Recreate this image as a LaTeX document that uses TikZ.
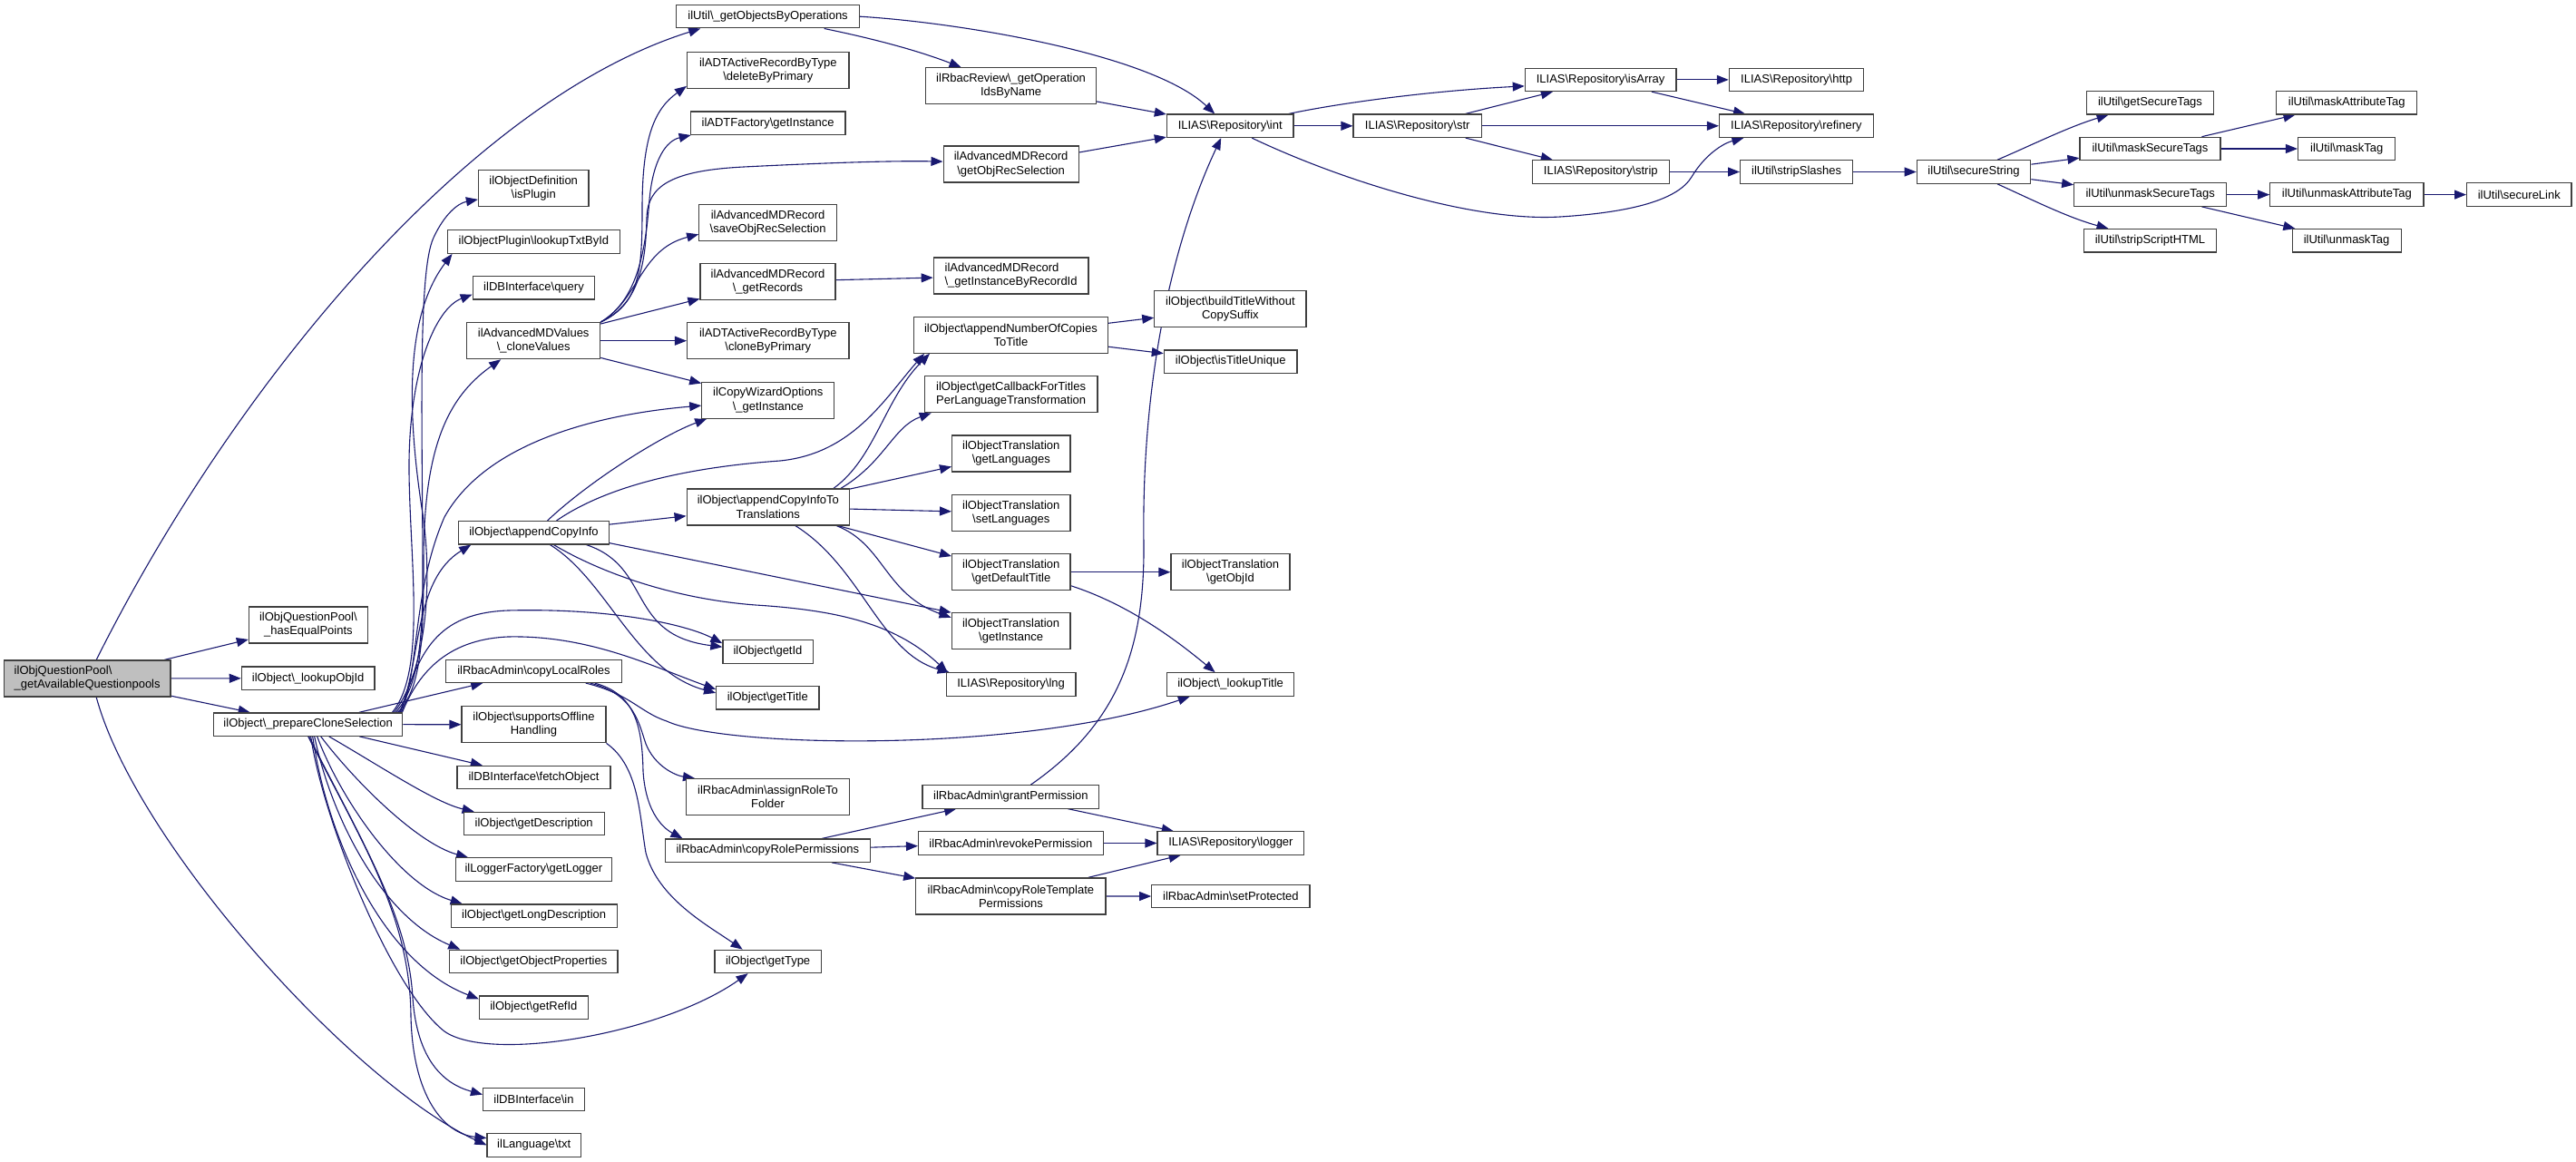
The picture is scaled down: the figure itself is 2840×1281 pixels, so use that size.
\documentclass[tikz,border=0pt]{standalone}
\usepackage{fontspec}
\newfontfamily\nodefont{Liberation Sans}
\usetikzlibrary{arrows.meta}
\pgfdeclarelayer{background}
\pgfsetlayers{background,main}
\definecolor{edgecol}{HTML}{191970}
\definecolor{rootfill}{HTML}{BFBFBF}
\tikzset{
  box/.style={draw=black!75, line width=1.2pt, fill=white, inner sep=0pt, text=black,
    font={\nodefont\fontsize{13}{15.1}\selectfont}, align=center},
  one/.style={box, minimum height=25.4pt},
  two/.style={box, minimum height=40pt},
  edge/.style={draw=edgecol, line width=1.1pt, -{Triangle[length=13pt,width=10pt]}},
}
\newcommand{\bs}{\textbackslash}
\begin{document}
\begin{tikzpicture}[x=1pt,y=-1pt]
\useasboundingbox (0,0) rectangle (2840,1281);
% ---------- nodes ----------
\node[two, fill=rootfill, align=left, minimum width=183.4pt] (A) at (96.2,748) {ilObjQuestionPool\bs\\\_getAvailableQuestionpools};
\node[two, minimum width=130.9pt] (hEP) at (339.9,689) {ilObjQuestionPool\bs\\\_hasEqualPoints};
\node[one, minimum width=146.7pt] (LOI) at (339.7,747.7) {ilObject\bs\_lookupObjId};
\node[one, minimum width=208.3pt] (P) at (339.7,798.6) {ilObject\bs\_prepareCloneSelection};
\node[one, minimum width=201.5pt] (GOBO) at (846.6,18.2) {ilUtil\bs\_getObjectsByOperations};
\node[two, minimum width=178.5pt] (DBP) at (846.8,77.3) {ilADTActiveRecordByType\\\bs deleteByPrimary};
\node[one, minimum width=170.7pt] (ADTF) at (846.6,135.7) {ilADTFactory\bs getInstance};
\node[two, minimum width=149pt] (GORS) at (1114.6,181.1) {ilAdvancedMDRecord\\\bs getObjRecSelection};
\node[two, minimum width=188pt] (OIBN) at (1114.6,94.7) {ilRbacReview\bs\_getOperation\\IdsByName};
\node[one, minimum width=139.6pt] (INT) at (1356.2,138.8) {ILIAS\bs Repository\bs int};
\node[two, minimum width=151.7pt] (SORS) at (846.6,245.3) {ilAdvancedMDRecord\\\bs saveObjRecSelection};
\node[two, minimum width=149pt] (GR) at (846.5,310.5) {ilAdvancedMDRecord\\\bs\_getRecords};
\node[two, align=left, minimum width=170.7pt] (GIBR) at (1114.6,304) {ilAdvancedMDRecord\\\bs\_getInstanceByRecordId};
\node[two, minimum width=178.5pt] (CBP) at (846.8,375.7) {ilADTActiveRecordByType\\\bs cloneByPrimary};
\node[two, minimum width=146pt] (CWO) at (846.8,441.1) {ilCopyWizardOptions\\\bs\_getInstance};
\node[two, minimum width=213.7pt] (ANC) at (1114.4,369.2) {ilObject\bs appendNumberOfCopies\\ToTitle};
\node[two, minimum width=167.2pt] (BTW) at (1356.4,340.2) {ilObject\bs buildTitleWithout\\CopySuffix};
\node[one, minimum width=146.7pt] (ITU) at (1356.7,398.6) {ilObject\bs isTitleUnique};
\node[two, minimum width=190.6pt] (GCB) at (1114.6,434.8) {ilObject\bs getCallbackForTitles\\PerLanguageTransformation};
\node[two, minimum width=130.4pt] (GL) at (1114.8,500) {ilObjectTranslation\\\bs getLanguages};
\node[two, minimum width=130.4pt] (SL) at (1114.8,565.4) {ilObjectTranslation\\\bs setLanguages};
\node[two, minimum width=179.3pt] (ACT) at (846.8,558.9) {ilObject\bs appendCopyInfoTo\\Translations};
\node[two, minimum width=130.4pt] (GDT) at (1114.8,630.7) {ilObjectTranslation\\\bs getDefaultTitle};
\node[two, minimum width=131pt] (GOI) at (1356.5,630.7) {ilObjectTranslation\\\bs getObjId};
\node[one, minimum width=166.6pt] (ISA) at (1764.6,87.9) {ILIAS\bs Repository\bs isArray};
\node[one, minimum width=148.5pt] (HTTP) at (1980.6,87.9) {ILIAS\bs Repository\bs http};
\node[one, minimum width=141.3pt] (STR) at (1562.7,138.8) {ILIAS\bs Repository\bs str};
\node[one, minimum width=169.8pt] (REF) at (1980.4,138.8) {ILIAS\bs Repository\bs refinery};
\node[one, minimum width=150.8pt] (STRIP) at (1764.8,189.5) {ILIAS\bs Repository\bs strip};
\node[one, minimum width=124pt] (SS) at (1980.6,189.5) {ilUtil\bs stripSlashes};
\node[one, minimum width=125.4pt] (SECS) at (2176,189.5) {ilUtil\bs secureString};
\node[one, minimum width=140.3pt] (GST) at (2370.5,113.3) {ilUtil\bs getSecureTags};
\node[one, minimum width=154.9pt] (MST) at (2370.5,164) {ilUtil\bs maskSecureTags};
\node[one, minimum width=168pt] (UST) at (2370.7,214.6) {ilUtil\bs unmaskSecureTags};
\node[one, minimum width=146.7pt] (SSH) at (2370.5,265.3) {ilUtil\bs stripScriptHTML};
\node[one, minimum width=155.3pt] (MAT) at (2587.2,113.3) {ilUtil\bs maskAttributeTag};
\node[one, minimum width=107.3pt] (MT) at (2587.2,164) {ilUtil\bs maskTag};
\node[one, minimum width=169.3pt] (UAT) at (2587.4,214.6) {ilUtil\bs unmaskAttributeTag};
\node[one, minimum width=120pt] (UT) at (2587.1,265.3) {ilUtil\bs unmaskTag};
\node[one, minimum width=115.4pt] (SLINK) at (2777.3,214.6) {ilUtil\bs secureLink};
\node[two, minimum width=121.4pt] (ODP) at (588.2,207.9) {ilObjectDefinition\\\bs isPlugin};
\node[one, minimum width=190.6pt] (LTB) at (588.4,266.6) {ilObjectPlugin\bs lookupTxtById};
\node[one, minimum width=134.5pt] (QRY) at (588.5,317.3) {ilDBInterface\bs query};
\node[two, minimum width=146.8pt] (CV) at (588.2,375.7) {ilAdvancedMDValues\\\bs\_cloneValues};
\node[one, minimum width=165.3pt] (ACI) at (588.5,587.3) {ilObject\bs appendCopyInfo};
\node[one, minimum width=193.3pt] (CLR) at (588.5,739.8) {ilRbacAdmin\bs copyLocalRoles};
\node[two, minimum width=158.9pt] (SOH) at (588.5,798.8) {ilObject\bs supportsOffline\\Handling};
\node[one, minimum width=168.9pt] (FO) at (588.5,857) {ilDBInterface\bs fetchObject};
\node[one, minimum width=154.9pt] (GD) at (588.7,908) {ilObject\bs getDescription};
\node[one, minimum width=171.6pt] (GLG) at (588.4,958.5) {ilLoggerFactory\bs getLogger};
\node[one, minimum width=182.9pt] (GLD) at (588.7,1009.6) {ilObject\bs getLongDescription};
\node[one, minimum width=185.2pt] (GOP) at (588.4,1059.9) {ilObject\bs getObjectProperties};
\node[one, minimum width=120pt] (GRI) at (588.4,1110.6) {ilObject\bs getRefId};
\node[one, minimum width=111.9pt] (DBIN) at (588.5,1211.9) {ilDBInterface\bs in};
\node[one, minimum width=103.3pt] (TXT) at (588.7,1262.4) {ilLanguage\bs txt};
\node[two, minimum width=130.8pt] (GTI) at (1114.6,695.8) {ilObjectTranslation\\\bs getInstance};
\node[one, minimum width=99.2pt] (GID) at (846.5,718.5) {ilObject\bs getId};
\node[one, minimum width=113.2pt] (GTT) at (846.3,769.2) {ilObject\bs getTitle};
\node[one, minimum width=142.6pt] (LNG) at (1114.6,754.5) {ILIAS\bs Repository\bs lng};
\node[one, minimum width=140.4pt] (LT) at (1356.6,754.5) {ilObject\bs\_lookupTitle};
\node[two, minimum width=179.8pt] (ARF) at (846.5,878.6) {ilRbacAdmin\bs assignRoleTo\\Folder};
\node[one, minimum width=194.7pt] (GP) at (1114.4,878.4) {ilRbacAdmin\bs grantPermission};
\node[one, minimum width=226.4pt] (CRP) at (846.3,937.6) {ilRbacAdmin\bs copyRolePermissions};
\node[one, minimum width=203.7pt] (RP) at (1114.4,929.5) {ilRbacAdmin\bs revokePermission};
\node[one, minimum width=161.7pt] (LOG) at (1356.9,929.5) {ILIAS\bs Repository\bs logger};
\node[two, minimum width=209.2pt] (CRTP) at (1114.4,987.9) {ilRbacAdmin\bs copyRoleTemplate\\Permissions};
\node[one, minimum width=174.3pt] (SP) at (1356.9,988.1) {ilRbacAdmin\bs setProtected};
\node[one, minimum width=117.3pt] (GTY) at (846.6,1059.9) {ilObject\bs getType};
% ---------- edges ----------
\begin{pgfonlayer}{background}
\fill[white] (0,0) rectangle (2840,1281);
% root
\draw[edge] ([xshift=10pt]A.north) .. controls (260,420) and (520,110) .. ([xshift=27pt]GOBO.south west);
\draw[edge] (A) -- (hEP);
\draw[edge] (A) -- (LOI);
\draw[edge] (A) -- (P);
\draw[edge] ([xshift=10pt]A.south) .. controls (150,930) and (390,1195) .. (TXT.west);
% prepareCloneSelection
\draw[edge] (P) -- (CLR);
\draw[edge] (P) -- (SOH);
\draw[edge] (P) -- (FO);
\draw[edge] (P) .. controls (420,845) and (480,885) .. ([xshift=12pt]GD.north west);
\draw[edge] ([xshift=14pt]P.south) .. controls (390,860) and (460,930) .. ([xshift=14pt]GLG.north west);
\draw[edge] ([xshift=10pt]P.south) .. controls (375,880) and (440,975) .. ([xshift=13pt]GLD.north west);
\draw[edge] ([xshift=7pt]P.south) .. controls (365,900) and (420,1010) .. ([xshift=12pt]GOP.north west);
\draw[edge] ([xshift=5pt]P.south) .. controls (360,920) and (420,1060) .. ([yshift=-4pt]GRI.north west);
\draw[edge] ([xshift=3pt]P.south) .. controls (355,900) and (430,1090) .. (490,1137) .. controls (540,1172) and (730,1140) .. ([xshift=-22pt]GTY.south);
\draw[edge] ([xshift=1pt]P.south) .. controls (400,930) and (450,1010) .. (455,1100) .. controls (460,1170) and (490,1195) .. ([yshift=-8pt]DBIN.north west);
\draw[edge] (P.south) .. controls (400,930) and (452,1010) .. (453,1120) .. controls (455,1210) and (490,1250) .. ([yshift=-5.5pt]TXT.north west);
\draw[edge] ([xshift=-8pt]P.north east) .. controls (458,760) and (466,720) .. (466,640) .. controls (466,480) and (460,300) .. (478,262) .. controls (490,236) and (505,224) .. ([yshift=-12pt]ODP.west);
\draw[edge] ([xshift=-10pt]P.north east) .. controls (470,740) and (478,640) .. (465,560) .. controls (450,460) and (445,350) .. ([xshift=6pt]LTB.south west);
\draw[edge] ([xshift=-12pt]P.north east) .. controls (470,740) and (452,620) .. (451,520) .. controls (450,410) and (480,340) .. ([yshift=6pt]QRY.south west);
\draw[edge] ([xshift=-6pt]P.north east) .. controls (465,760) and (467,700) .. (467,620) .. controls (467,500) and (490,440) .. ([xshift=-36pt]CV.south);
\draw[edge] ([xshift=-4pt]P.north east) .. controls (465,730) and (455,640) .. ([xshift=14pt]ACI.south west);
\draw[edge] ([xshift=-2pt]P.north east) .. controls (462,740) and (455,650) .. (490,570) .. controls (540,480) and (680,455) .. ([yshift=-6pt]CWO.west);
\draw[edge] ([xshift=-3pt]P.north east) .. controls (462,720) and (480,676) .. (560,673) .. controls (680,670) and (760,690) .. ([yshift=-4pt]GID.north west);
\draw[edge] ([xshift=-1pt]P.north east) .. controls (460,745) and (490,705) .. (560,702) .. controls (650,700) and (720,735) .. ([yshift=-4pt]GTT.north west);
% cloneValues
\draw[edge] (CV.north east) .. controls (705,335) and (708,300) .. (708,230) .. controls (708,150) and (722,120) .. ([yshift=3pt]DBP.south west);
\draw[edge] (CV.north east) .. controls (705,330) and (712,270) .. (716,220) .. controls (720,175) and (735,155) .. ([xshift=1pt]ADTF.south west);
\draw[edge] (CV.north east) .. controls (705,335) and (712,290) .. (713,240) .. controls (714,205) and (740,188) .. (820,184) .. controls (900,180) and (980,177) .. ([yshift=3pt]GORS.west);
\draw[edge] (CV.north east) .. controls (705,330) and (705,275) .. ([yshift=-13pt]SORS.west);
\draw[edge] (CV) -- (GR);
\draw[edge] (CV) -- (CBP);
\draw[edge] (CV) -- (CWO);
% appendCopyInfo
\draw[edge] ([xshift=15pt]ACI.north) .. controls (650,530) and (730,480) .. ([xshift=6pt]CWO.south west);
\draw[edge] ([xshift=25pt]ACI.north) .. controls (670,535) and (760,515) .. (860,508) .. controls (940,500) and (975,440) .. ([xshift=12pt]ANC.south west);
\draw[edge] (ACI) -- (ACT);
\draw[edge] ([yshift=2pt]ACI.south east) -- (GTI.north west);
\draw[edge] ([xshift=22pt]ACI.south) .. controls (660,630) and (740,660) .. (833,667) .. controls (930,673) and (990,690) .. ([xshift=2pt]LNG.north west);
\draw[edge] ([xshift=58pt]ACI.south) .. controls (720,625) and (690,700) .. ([yshift=-8pt]GID.north west);
\draw[edge] ([xshift=18pt]ACI.south) .. controls (670,640) and (700,740) .. ([yshift=-8pt]GTT.north west);
% appendCopyInfoToTranslations
\draw[edge] ([xshift=-18pt]ACT.north east) .. controls (965,505) and (975,440) .. ([xshift=18pt]ANC.south west);
\draw[edge] ([xshift=-10pt]ACT.north east) .. controls (975,510) and (985,470) .. ([xshift=8pt]GCB.south west);
\draw[edge] (ACT) -- (GL);
\draw[edge] (ACT) -- (SL);
\draw[edge] (ACT) -- (GDT);
\draw[edge] ([xshift=-15pt]ACT.south east) .. controls (975,600) and (975,655) .. ([yshift=15pt]GTI.west);
\draw[edge] ([xshift=30pt]ACT.south) .. controls (950,625) and (970,720) .. ([xshift=4pt]LNG.north west);
\draw[edge] (ANC) -- (BTW);
\draw[edge] (ANC) -- (ITU);
\draw[edge] (GDT) -- (GOI);
\draw[edge] ([yshift=-15pt]GDT.east) .. controls (1240,665) and (1290,700) .. ([xshift=-17pt]LT.north);
% copyLocalRoles
\draw[edge] ([xshift=-40pt]CLR.south east) .. controls (695,765) and (705,785) .. (735,795) .. controls (800,825) and (1130,830) .. ([xshift=26pt]LT.south west);
\draw[edge] ([xshift=-35pt]CLR.south east) .. controls (700,765) and (705,800) .. (712,820) .. controls (722,845) and (745,855) .. ([xshift=10pt]ARF.north west);
\draw[edge] ([xshift=-30pt]CLR.south east) .. controls (700,765) and (708,800) .. (709,850) .. controls (712,900) and (735,915) .. ([xshift=20pt]CRP.north west);
\draw[edge] (SOH.south east) .. controls (705,845) and (705,900) .. (712,940) .. controls (725,990) and (780,1020) .. ([xshift=-28pt]GTY.north);
% rbac
\draw[edge] (CRP) -- (GP);
\draw[edge] (CRP) -- (RP);
\draw[edge] (CRP) -- (CRTP);
\draw[edge] ([xshift=22pt]GP.north) .. controls (1230,800) and (1262,720) .. (1261,600) .. controls (1258,400) and (1300,250) .. ([xshift=-10pt]INT.south);
\draw[edge] (GP) -- (LOG);
\draw[edge] (RP) -- (LOG);
\draw[edge] (CRTP) -- (LOG);
\draw[edge] (CRTP) -- (SP);
% top part
\draw[edge] ([xshift=62pt]GOBO.south) .. controls (960,42) and (1010,55) .. ([xshift=-55pt]OIBN.north);
\draw[edge] (GOBO.east) .. controls (1060,25) and (1270,60) .. ([xshift=-17pt]INT.north);
\draw[edge] (OIBN) -- (INT);
\draw[edge] (GORS) -- (INT);
\draw[edge] (GR) -- (GIBR);
\draw[edge] ([xshift=-6pt]INT.north east) .. controls (1480,113) and (1580,100) .. ([yshift=-7pt]ISA.west);
\draw[edge] (INT) -- (STR);
\draw[edge] ([xshift=24pt]INT.south) .. controls (1470,195) and (1620,245) .. (1720,239) .. controls (1800,234) and (1850,220) .. (1865,195) .. controls (1880,170) and (1900,158) .. ([xshift=-58pt]REF.south);
\draw[edge] (STR) -- (ISA);
\draw[edge] (STR) -- (REF);
\draw[edge] (STR) -- (STRIP);
\draw[edge] (ISA) -- (HTTP);
\draw[edge] (ISA) -- (REF);
\draw[edge] (STRIP) -- (SS);
\draw[edge] (SS) -- (SECS);
\draw[edge] ([xshift=26pt]SECS.north) .. controls (2240,160) and (2280,140) .. ([xshift=-46pt]GST.south);
\draw[edge] (SECS) -- (MST);
\draw[edge] (SECS) -- (UST);
\draw[edge] ([xshift=26pt]SECS.south) .. controls (2240,220) and (2280,240) .. ([xshift=-46pt]SSH.north);
\draw[edge] (MST) -- (MAT);
\draw[edge] (MST) -- (MT);
\draw[edge] (UST) -- (UAT);
\draw[edge] (UST) -- (UT);
\draw[edge] (UAT) -- (SLINK);
\end{pgfonlayer}
\end{tikzpicture}
\end{document}
